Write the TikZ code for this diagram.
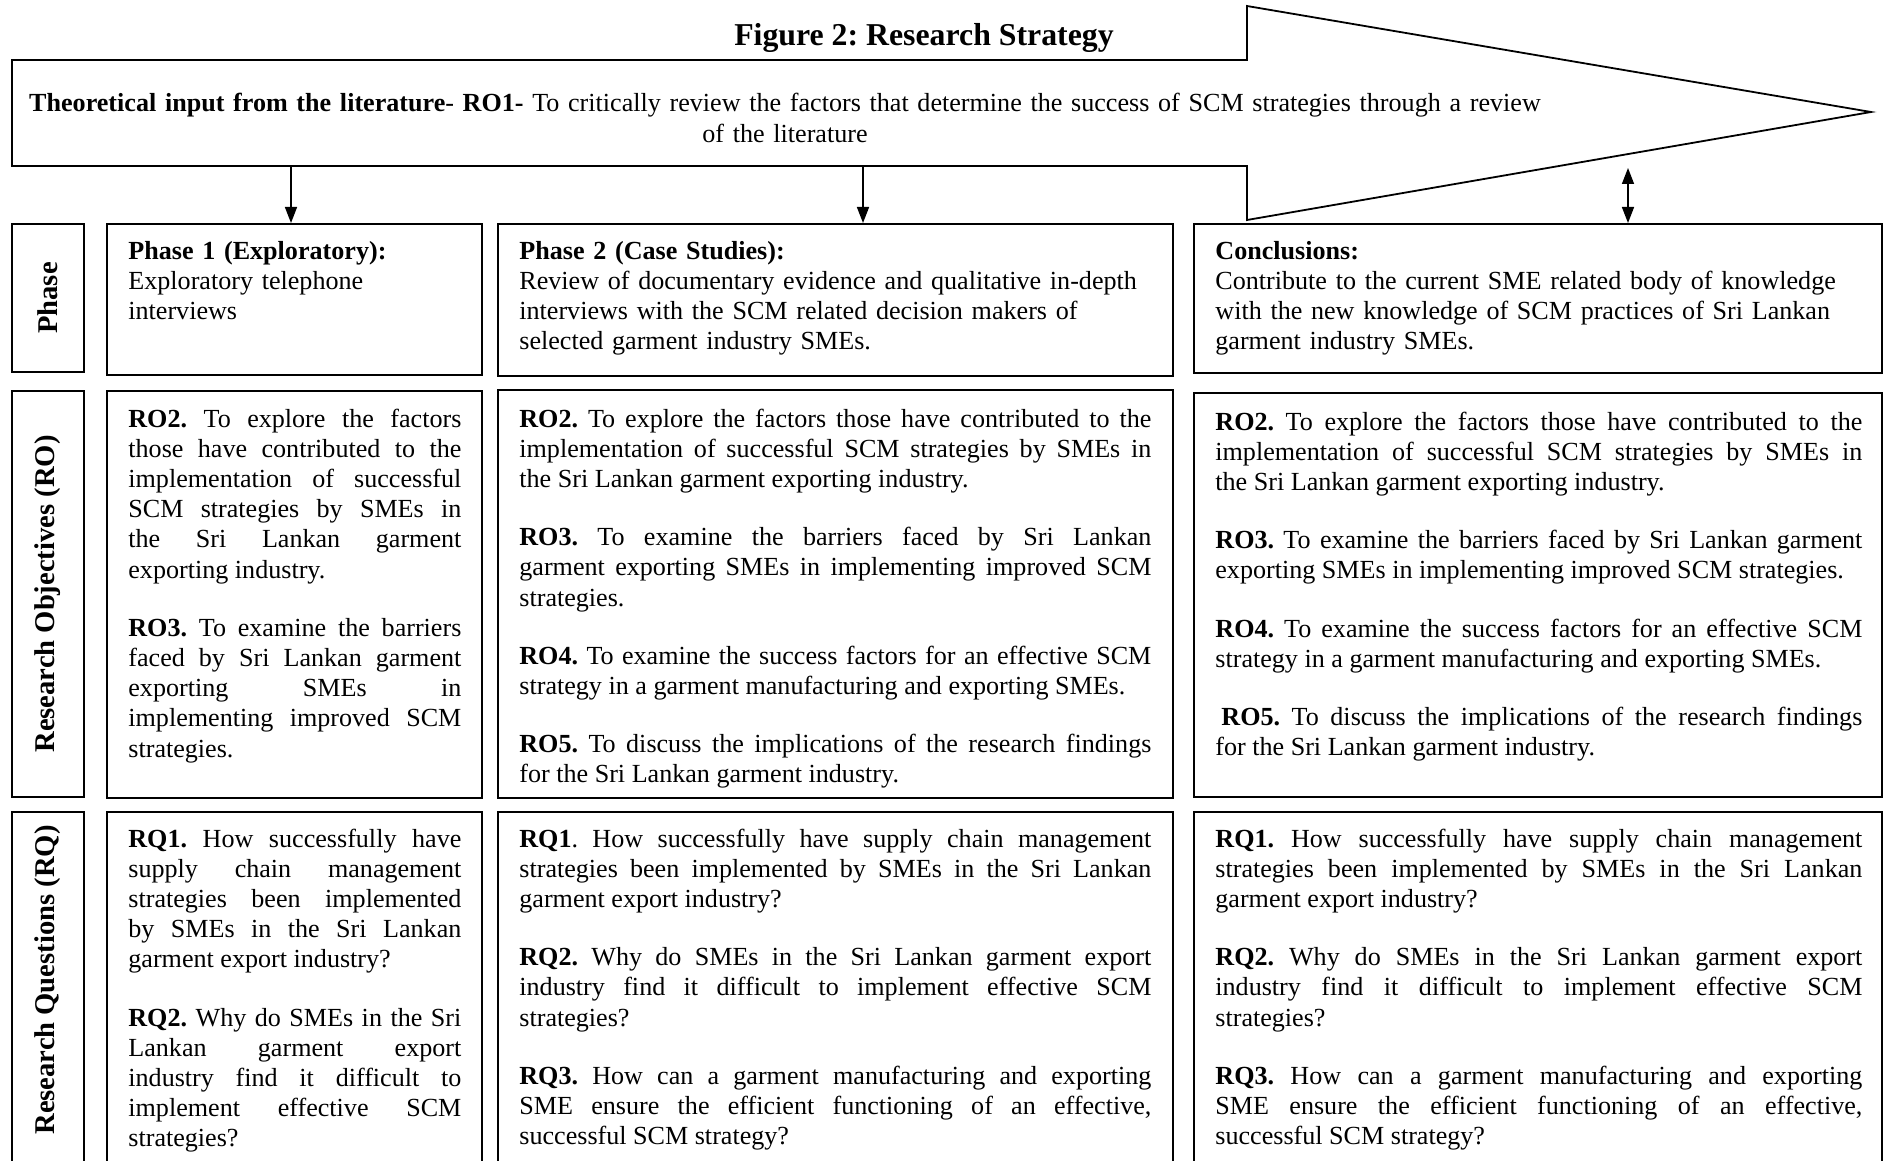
\documentclass[tikz,border=0pt]{standalone}
\usepackage{fontspec}
\setmainfont{Liberation Serif}
\usetikzlibrary{arrows.meta,fit}
\hyphenpenalty=10000
\exhyphenpenalty=10000
\tolerance=10000
\hbadness=10000
\hfuzz=20pt
% gap between two paragraphs inside a box
\newcommand\pgap{\par\vspace{14pt}}
\begin{document}
\frenchspacing
\begin{tikzpicture}[x=0.5pt,y=-0.5pt,
  box/.style={draw, line width=1pt, inner sep=0pt},
  body/.style={font=\fontsize{13.05pt}{15.1pt}\selectfont},
  para/.style={body, anchor=base west, inner sep=0pt, align=justify},
  plain/.style={body, anchor=base west, inner sep=0pt, align=left},
  lbl/.style={font=\fontsize{14.3pt}{16pt}\selectfont\bfseries, rotate=90, inner sep=0pt},
  tip/.style={Triangle[width=6pt,length=8pt]},
  conn/.style={line width=0.75pt, -{Triangle[width=6pt,length=8pt]}},
  dconn/.style={line width=0.75pt, {Triangle[width=6pt,length=8pt]}-{Triangle[width=6pt,length=8pt]}},
]
\useasboundingbox (0,0) rectangle (1887,1161);
\clip (0,0) rectangle (1887,1161);

% title
\node[font=\fontsize{15.9pt}{18pt}\selectfont\bfseries, anchor=base, inner sep=0pt] (title) at (924,46) {Figure 2: Research Strategy};

% block arrow carrying the literature input
\draw[line width=0.9pt, line join=miter] (12,60) -- (1247,60) -- (1247,6) -- (1871,112) -- (1247,220) -- (1247,166) -- (12,166) -- cycle;
\node[body, anchor=base, text width=760pt, align=center, inner sep=0pt] (lit) at (785,112)
  {\textbf{Theoretical input from the literature}- \textbf{RO1-} To critically review the factors that determine the success of SCM strategies through a review\\ of the literature};
\coordinate (a1) at (291,166);
\coordinate (a2) at (863,166);
\coordinate (a3) at (1628,168);

% row labels
\node[box, fit={(12,224) (84,372)}] (l1) {};
\node[box, fit={(12,391) (84,797)}] (l2) {};
\node[box, fit={(12,812) (84,1185)}] (l3) {};
\node[lbl] (lab1) at (48,298) {Phase};
\node[lbl] (lab2) at (48,594) {Research Objectives (RO)};
\node[lbl] (lab3) at (48,980) {Research Questions (RQ)};

% column 1
\node[box, fit={(107,224) (482,375)}] (p1) {};
\node[box, fit={(107,391) (482,798)}] (o1) {};
\node[box, fit={(107,812) (482,1185)}] (q1) {};
% column 2
\node[box, fit={(498,224) (1173,376)}] (p2) {};
\node[box, fit={(498,390) (1173,798)}] (o2) {};
\node[box, fit={(498,812) (1173,1185)}] (q2) {};
% column 3
\node[box, fit={(1194,224) (1882,373)}] (p3) {};
\node[box, fit={(1194,393) (1882,797)}] (o3) {};
\node[box, fit={(1194,812) (1882,1185)}] (q3) {};

% connectors
\draw[conn] (a1) -- (a1 |- p1.north);
\draw[conn] (a2) -- (a2 |- p2.north);
\draw[dconn] (a3) -- (a3 |- p3.north);

% phase texts
\node[plain, text width=166.5pt] (tp1) at (128,259)
  {\textbf{Phase 1 (Exploratory):}\\ Exploratory telephone\\ interviews};
\node[plain, text width=316pt] (tp2) at (519,259)
  {\textbf{Phase 2 (Case Studies):}\\ Review of documentary evidence and qualitative in-depth\\ interviews with the SCM related decision makers of\\ selected garment industry SMEs.};
\node[plain, text width=323.5pt] (tp3) at (1215,259)
  {\textbf{Conclusions:}\\ Contribute to the current SME related body of knowledge\\ with the new knowledge of SCM practices of Sri Lankan\\ garment industry SMEs.};

% research objectives
\node[para, text width=166.5pt] (to1) at (128,427)
  {\textbf{RO2.} To explore the factors\linebreak those have contributed to the\linebreak implementation of successful\linebreak SCM strategies by SMEs in\linebreak the Sri Lankan garment\linebreak exporting industry.\pgap
   \textbf{RO3.} To examine the barriers\linebreak faced by Sri Lankan garment\linebreak exporting SMEs in\linebreak implementing improved SCM\linebreak strategies.};
\node[para, text width=316pt] (to2) at (519,427)
  {\textbf{RO2.} To explore the factors those have contributed to the\linebreak implementation of successful SCM strategies by SMEs in\linebreak the Sri Lankan garment exporting industry.\pgap
   \textbf{RO3.} To examine the barriers faced by Sri Lankan\linebreak garment exporting SMEs in implementing improved SCM\linebreak strategies.\pgap
   \textbf{RO4.} To examine the success factors for an effective SCM\linebreak strategy in a garment manufacturing and exporting SMEs.\pgap
   \textbf{RO5.} To discuss the implications of the research findings\linebreak for the Sri Lankan garment industry.};
\node[para, text width=323.5pt] (to3) at (1215,430)
  {\textbf{RO2.} To explore the factors those have contributed to the\linebreak implementation of successful SCM strategies by SMEs in\linebreak the Sri Lankan garment exporting industry.\pgap
   \textbf{RO3.} To examine the barriers faced by Sri Lankan garment\linebreak exporting SMEs in implementing improved SCM strategies.\pgap
   \textbf{RO4.} To examine the success factors for an effective SCM\linebreak strategy in a garment manufacturing and exporting SMEs.\pgap
   \hspace*{3pt}\textbf{RO5.} To discuss the implications of the research findings\linebreak for the Sri Lankan garment industry.};

% research questions
\node[para, text width=166.5pt] (tq1) at (128,847)
  {\textbf{RQ1.} How successfully have\linebreak supply chain management\linebreak strategies been implemented\linebreak by SMEs in the Sri Lankan\linebreak garment export industry?\pgap
   \textbf{RQ2.} Why do SMEs in the Sri\linebreak Lankan garment export\linebreak industry find it difficult to\linebreak implement effective SCM\linebreak strategies?};
\node[para, text width=316pt] (tq2) at (519,847)
  {\textbf{RQ1}. How successfully have supply chain management\linebreak strategies been implemented by SMEs in the Sri Lankan\linebreak garment export industry?\pgap
   \textbf{RQ2.} Why do SMEs in the Sri Lankan garment export\linebreak industry find it difficult to implement effective SCM\linebreak strategies?\pgap
   \textbf{RQ3.} How can a garment manufacturing and exporting\linebreak SME ensure the efficient functioning of an effective,\linebreak successful SCM strategy?};
\node[para, text width=323.5pt] (tq3) at (1215,847)
  {\textbf{RQ1.} How successfully have supply chain management\linebreak strategies been implemented by SMEs in the Sri Lankan\linebreak garment export industry?\pgap
   \textbf{RQ2.} Why do SMEs in the Sri Lankan garment export\linebreak industry find it difficult to implement effective SCM\linebreak strategies?\pgap
   \textbf{RQ3.} How can a garment manufacturing and exporting\linebreak SME ensure the efficient functioning of an effective,\linebreak successful SCM strategy?};
\end{tikzpicture}
\end{document}
